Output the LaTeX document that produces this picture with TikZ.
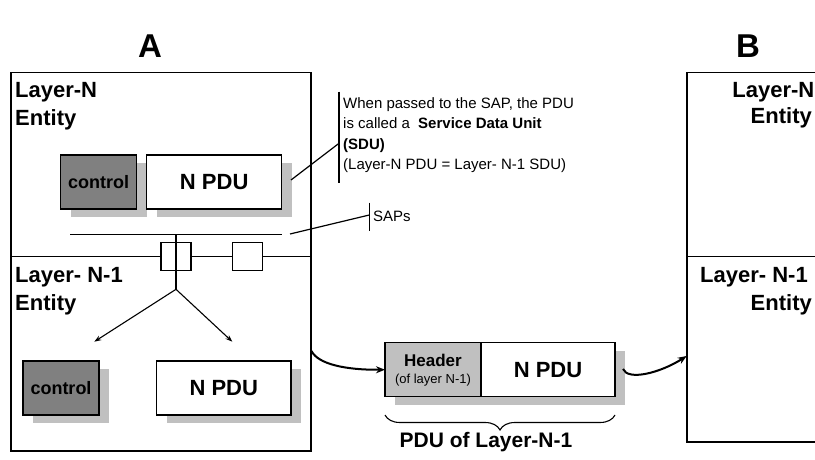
\documentclass[tikz,border=0pt]{standalone}
\usepackage{fontspec}
\setmainfont{Liberation Sans}
\usetikzlibrary{arrows.meta,shadows,decorations.pathreplacing}
\definecolor{shadowgray}{HTML}{C0C0C0}
\definecolor{ctrlgray}{HTML}{808080}
\newcommand{\fsz}[1]{\fontsize{#1}{#1}\selectfont}

\begin{document}
\begin{tikzpicture}[x=1pt,y=-1pt,
  entitybox/.style={draw,line width=1.6pt,rectangle,inner sep=0,outer sep=0},
  unitbox/.style={draw,line width=1.4pt,rectangle,inner sep=0,outer sep=0,
    fill=white,minimum height=54pt,
    general shadow={fill=shadowgray,shadow xshift=10pt,shadow yshift=-8pt}},
  ctrlbox/.style={unitbox,fill=ctrlgray,minimum width=76pt,font=\fsz{18}\bfseries},
  pdubox/.style={unitbox,minimum width=135pt,font=\fsz{22}\bfseries},
  sapbox/.style={draw,line width=1.2pt,fill=white,rectangle,inner sep=0,outer sep=0,
    minimum width=30pt,minimum height=28.5pt},
  title/.style={font=\fsz{33}\bfseries,inner sep=0,anchor=base},
  layertxt/.style={font=\fsz{22}\bfseries,inner sep=0},
  calltxt/.style={font=\fsz{15},inner sep=0,anchor=base west},
  thinline/.style={line width=1.2pt},
  forkarrow/.style={line width=1.1pt,-{Stealth[length=7pt,width=5pt]}},
  swoosh/.style={line width=2pt,-{Stealth[length=9pt,width=7pt]}}
]
\clip (0,0) rectangle (815,460);

% system titles
\node[title] (lblA) at (150,58) {A};
\node[title] (lblB) at (748,58) {B};

% ---------------- system A ----------------
\node[entitybox,minimum width=300pt,minimum height=378pt] (entA) at (161,261.7) {};
\coordinate (splitA) at (0,256.5);
\draw[line width=1.5pt] (entA.west |- splitA) -- (entA.east |- splitA);

\node[layertxt,anchor=base west] (aN1) at (15,98) {Layer-N};
\node[layertxt,anchor=base west] (aN2) at (15,125) {Entity};
\node[layertxt,anchor=base west] (aM1) at (15,282) {Layer- N-1};
\node[layertxt,anchor=base west] (aM2) at (15,310) {Entity};

% layer N protocol data unit
\node[ctrlbox] (ctrlA) at (98.7,182) {control};
\node[pdubox] (pduA) at (214.2,182) {N PDU};

% service access points
\coordinate (busL) at (70.3,234.3);
\coordinate (busR) at (281.7,234.3);
\draw[thinline] (busL) -- (busR);
\node[sapbox] (sap1) at (176,256.5) {};
\node[sapbox] (sap2) at (247.5,256.5) {};
\coordinate (fork) at (176,289.3);
\draw[thinline] (sap1 |- busL) -- (fork);
\coordinate (tipCtrl) at (94.3,341.7);
\coordinate (tipPdu) at (232.3,341.7);
\draw[forkarrow] (fork) -- (tipCtrl);
\draw[forkarrow] (fork) -- (tipPdu);

% layer N-1 contents
\node[ctrlbox] (ctrlB) at (61,388) {control};
\node[pdubox,minimum width=134.3pt] (pduB) at (223.8,388) {N PDU};

% ---------------- annotations ----------------
\coordinate (calTop) at (339,91.7);
\coordinate (calBot) at (339,183.3);
\coordinate (calHit) at (339,143.3);
\coordinate (calFoot) at (291,180);
\draw[thinline] (calTop) -- (calBot);
\draw[thinline] (calFoot) -- (calHit);
\node[calltxt] (cl1) at (343,108.3) {When passed to the SAP, the PDU};
\node[calltxt] (cl2) at (343,128.8) {is called a \ \textbf{Service Data Unit}};
\node[calltxt] (cl3) at (343,149.3) {\textbf{(SDU)}};
\node[calltxt] (cl4) at (343,169.8) {(Layer-N PDU = Layer- N-1 SDU)};

\coordinate (sapTop) at (369.3,202.7);
\coordinate (sapBot) at (369.3,230.7);
\coordinate (sapHit) at (369.3,215);
\coordinate (sapFoot) at (290,234);
\draw[thinline] (sapTop) -- (sapBot);
\draw[thinline] (sapFoot) -- (sapHit);
\node[calltxt,anchor=west] (sapsTxt) at (373,216) {SAPs};

% ---------------- PDU of layer N-1 ----------------
\node[unitbox,fill=shadowgray,minimum width=96pt,align=center,font=\fsz{13}]
  (header) at (433,369.7) {{\fsz{17}\bfseries Header}\\[4pt](of layer N-1)};
\node[pdubox,minimum width=134pt] (pduC) at (548,369.7) {N PDU};

\coordinate (braceR) at (615,415);
\coordinate (braceL) at (385,415);
\draw[line width=1.1pt,decorate,decoration={brace,amplitude=15pt}] (braceR) -- (braceL);
\node[layertxt,font=\fsz{21}\bfseries,anchor=base] (pduTxt) at (486,447) {PDU of Layer-N-1};

% ---------------- system B ----------------
\node[entitybox,minimum width=213.3pt,minimum height=369pt] (entB) at (793.35,257.2) {};
\coordinate (splitB) at (0,256.7);
\draw[line width=1.5pt] (entB.west |- splitB) -- (entB.east |- splitB);
\node[layertxt,anchor=base east] (bN1) at (814.5,98) {Layer-N};
\node[layertxt,anchor=base east] (bN2) at (812,124) {Entity};
\node[layertxt,anchor=base east] (bM1) at (808,282) {Layer- N-1};
\node[layertxt,anchor=base east] (bM2) at (812,310) {Entity};

% transfer arrows
\coordinate (outA) at (311.5,351);
\draw[swoosh] (outA) .. controls (318,364) and (345,370) .. (header.west);
\coordinate (outC) at (623,369);
\coordinate (inB) at (686.7,356);
\draw[swoosh] (outC) .. controls (628,381) and (660,373) .. (inB);
\end{tikzpicture}
\end{document}
